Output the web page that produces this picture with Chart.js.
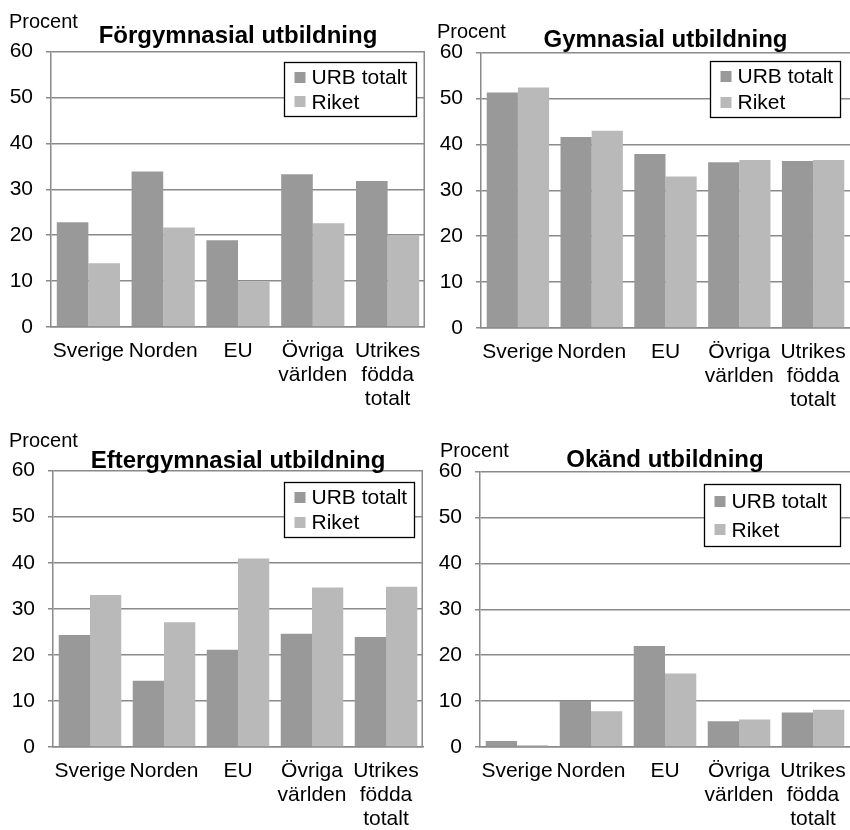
<!DOCTYPE html>
<html lang="sv">
<head>
<meta charset="utf-8">
<title>Utbildningsnivå</title>
<script src="https://cdn.jsdelivr.net/npm/chart.js@4.4.1/dist/chart.umd.min.js"></script>
<style>
  body { margin: 0; background: #fff; }
  #wrap { position: relative; width: 850px; height: 830px; }
  .panel { position: absolute; width: 425px; height: 415px; }
</style>
</head>
<body>
<div id="wrap">
  <div class="panel" style="left:0;top:0"><canvas id="c1" width="425" height="415"></canvas></div>
  <div class="panel" style="left:425px;top:0"><canvas id="c2" width="425" height="415"></canvas></div>
  <div class="panel" style="left:0;top:415px"><canvas id="c3" width="425" height="415"></canvas></div>
  <div class="panel" style="left:425px;top:415px"><canvas id="c4" width="425" height="415"></canvas></div>
</div>
<script>
// data
const categories = ['Sverige', 'Norden', 'EU', ['Övriga', 'världen'], ['Utrikes', 'födda', 'totalt']];
const seriesNames = ['URB totalt', 'Riket'];
const yUnit = 'Procent';
const yMin = 0;
const yMax = 60;
const yStep = 10;

const titles = ['Förgymnasial utbildning', 'Gymnasial utbildning', 'Eftergymnasial utbildning', 'Okänd utbildning'];

const forgymUrb = [22.8, 33.9, 18.9, 33.3, 31.8];
const forgymRiket = [13.9, 21.7, 9.9, 22.6, 20.0];

const gymUrb = [51.3, 41.6, 37.9, 36.1, 36.4];
const gymRiket = [52.4, 43.0, 33.0, 36.6, 36.6];

const eftergymUrb = [24.3, 14.4, 21.1, 24.6, 23.9];
const eftergymRiket = [33.0, 27.1, 40.9, 34.6, 34.8];

const okandUrb = [1.3, 10.0, 22.0, 5.6, 7.5];
const okandRiket = [0.4, 7.8, 16.0, 6.0, 8.1];

const FONT = '"Liberation Sans", Arial, Helvetica, sans-serif';
const urbColor = '#999999';
const riketColor = '#b9b9b9';
const lineColor = '#8a8a8a';

Chart.defaults.font.family = FONT;
Chart.defaults.color = '#000';

// layout per panel
const panels = [
  { id: 'c1', urb: forgymUrb, riket: forgymRiket, axisW: 51, xAxisH: 88, padRight: 0,
    titlePad: { top: 22.4, bottom: 0.4 }, procent: [9, 28], rightBorder: true,
    legend: { w: 132, h: 54, gapRight: 9, gapTop: 10 } },
  { id: 'c2', urb: gymUrb, riket: gymRiket, axisW: 56, xAxisH: 87, padRight: 0,
    titlePad: { top: 25.9, bottom: -2.1 }, procent: [12, 38], rightBorder: false,
    legend: { w: 130, h: 56, gapRight: 10, gapTop: 8 } },
  { id: 'c3', urb: eftergymUrb, riket: eftergymRiket, axisW: 53, xAxisH: 83, padRight: 2,
    titlePad: { top: 31.9, bottom: -5.1 }, procent: [9, 32], rightBorder: true,
    legend: { w: 130, h: 55, gapRight: 9, gapTop: 11 } },
  { id: 'c4', urb: okandUrb, riket: okandRiket, axisW: 55, xAxisH: 83, padRight: 0,
    titlePad: { top: 31.4, bottom: -3.6 }, procent: [15, 42], rightBorder: false,
    legend: { w: 136, h: 62, gapRight: 10, gapTop: 12 } }
];

// "Procent", legend box and right border of plot area
const extrasPlugin = {
  id: 'extras',
  afterDraw(chart, args, opts) {
    const ctx = chart.ctx;
    const area = chart.chartArea;
    ctx.save();

    ctx.fillStyle = '#000';
    ctx.font = '20px ' + FONT;
    ctx.textAlign = 'left';
    ctx.textBaseline = 'alphabetic';
    ctx.fillText(yUnit, opts.procent[0], opts.procent[1]);

    if (opts.rightBorder) {
      ctx.strokeStyle = lineColor;
      ctx.lineWidth = 1.5;
      ctx.beginPath();
      ctx.moveTo(area.right - 0.75, area.top);
      ctx.lineTo(area.right - 0.75, area.bottom);
      ctx.stroke();
    }

    const lg = opts.legend;
    const bx = Math.round(area.right - lg.gapRight - lg.w) + 0.5;
    const by = Math.round(area.top + lg.gapTop) + 0.5;
    ctx.fillStyle = '#fff';
    ctx.fillRect(bx, by, lg.w, lg.h);
    ctx.strokeStyle = '#000';
    ctx.lineWidth = 1.3;
    ctx.strokeRect(bx, by, lg.w, lg.h);

    ctx.font = '21px ' + FONT;
    ctx.textBaseline = 'middle';
    chart.data.datasets.forEach((ds, i) => {
      const ry = by + lg.h * (i === 0 ? 0.27 : 0.73);
      ctx.fillStyle = ds.backgroundColor;
      ctx.fillRect(bx + 10, Math.round(ry - 5.5), 11, 11);
      ctx.fillStyle = '#000';
      ctx.fillText(ds.label, bx + 27, ry + 1);
    });

    ctx.restore();
  }
};

panels.forEach((p, idx) => {
  const ctx = document.getElementById(p.id).getContext('2d');
  new Chart(ctx, {
    type: 'bar',
    data: {
      labels: categories,
      datasets: [{
        label: seriesNames[0],
        data: p.urb,
        backgroundColor: urbColor,
        borderWidth: 0
      }, {
        label: seriesNames[1],
        data: p.riket,
        backgroundColor: riketColor,
        borderWidth: 0
      }]
    },
    options: {
      responsive: false,
      animation: false,
      devicePixelRatio: 1,
      categoryPercentage: 0.845,
      barPercentage: 1.0,
      layout: { padding: { left: 0, right: p.padRight, top: 0, bottom: 0 } },
      plugins: {
        legend: { display: false },
        tooltip: { enabled: false },
        title: {
          display: true,
          text: titles[idx],
          fullSize: false,
          color: '#000',
          font: { size: 24, weight: 'bold', family: FONT },
          padding: p.titlePad
        },
        extras: p
      },
      scales: {
        x: {
          afterFit(scale) {
            scale.height = p.xAxisH;
            // labels may hang over the edges, like in the original
            scale.paddingLeft = 0;
            scale.paddingRight = 0;
          },
          grid: { display: true, drawOnChartArea: false, drawTicks: false },
          border: { display: true, color: lineColor, width: 1.5 },
          ticks: {
            autoSkip: false,
            maxRotation: 0,
            minRotation: 0,
            padding: 12,
            color: '#000',
            font: { size: 21, family: FONT, lineHeight: 1.15 }
          }
        },
        y: {
          min: yMin,
          max: yMax,
          afterFit(scale) { scale.width = p.axisW; },
          grid: { color: lineColor, lineWidth: 1.5, tickLength: 5 },
          border: { display: true, color: lineColor, width: 1.5 },
          ticks: {
            stepSize: yStep,
            padding: 13,
            color: '#000',
            font: { size: 21, family: FONT }
          }
        }
      }
    },
    plugins: [extrasPlugin]
  });
});
</script>
</body>
</html>
